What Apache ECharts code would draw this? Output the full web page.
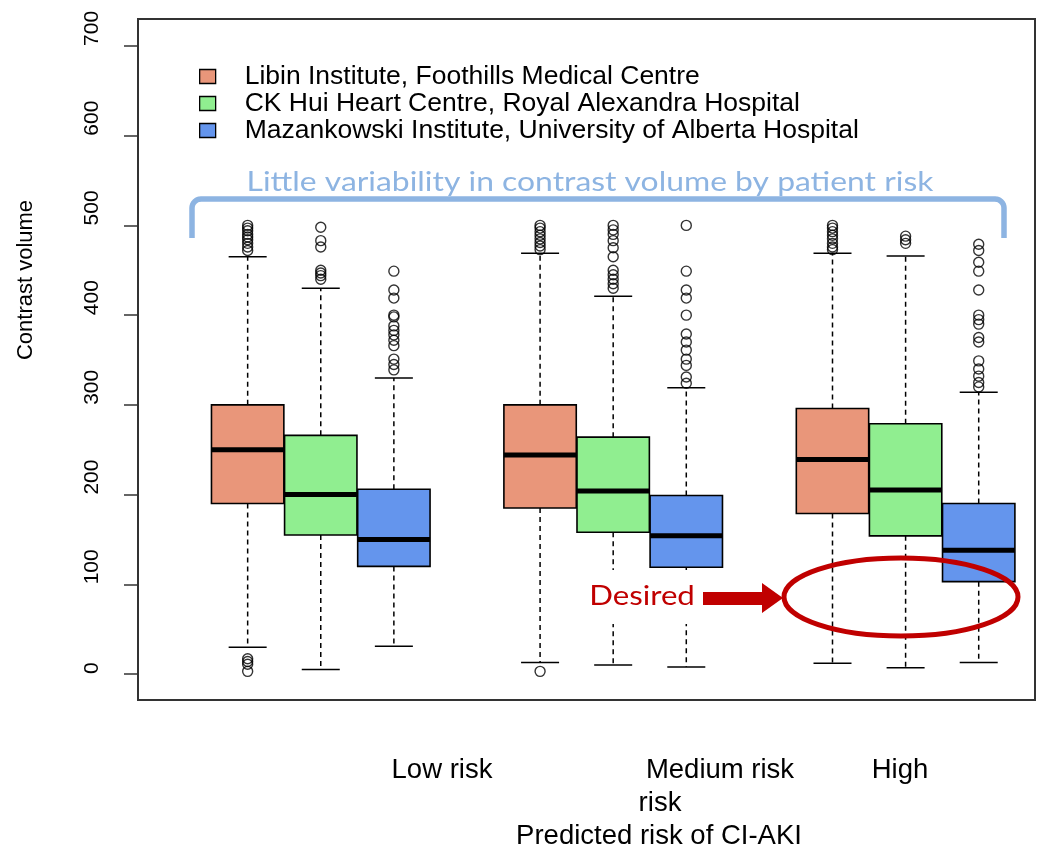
<!DOCTYPE html>
<html>
<head>
<meta charset="utf-8">
<script src="https://cdn.jsdelivr.net/npm/echarts@6/dist/echarts.min.js"></script>
<style>
  html, body { margin: 0; padding: 0; background: #fff; overflow: hidden; }
  #chart { width: 1038px; height: 851px; }
</style>
</head>
<body>
<div id="chart"></div>
<script>
// Hospitals (one box colour each) and risk groups along the x axis
const hospitals = [
  'Libin Institute, Foothills Medical Centre',
  'CK Hui Heart Centre, Royal Alexandra Hospital',
  'Mazankowski Institute, University of Alberta Hospital'
];
const riskGroups = ['Low risk', 'Medium risk', 'High'];
const hospitalColors = ['#E9967A', '#90EE90', '#6495ED'];

// Box statistics per risk group: [lower whisker, Q1, median, Q3, upper whisker]
const libinStats = [[30, 190, 250, 300, 465], [13, 185, 244, 300, 469], [12, 179, 239, 296, 469]];
const ckHuiStats = [[5, 155, 200, 266, 430], [10, 158, 204, 264, 421], [7, 154, 205, 279, 466]];
const mazankowskiStats = [[31, 120, 150, 206, 330], [8, 119, 154, 199, 319], [13, 103, 138, 190, 314]];

// Outlying contrast volumes per risk group
const libinOutliers = [
  [500, 497, 494, 490, 487, 484, 480, 476, 472, 17, 14, 11, 3],
  [500, 497, 493, 489, 485, 481, 477, 473, 3],
  [500, 497, 493, 489, 485, 480, 476, 473]
];
const ckHuiOutliers = [
  [498, 483, 476, 450, 447, 444, 440],
  [500, 495, 490, 483, 475, 465, 450, 445, 440, 435, 430],
  [488, 484, 480]
];
const mazankowskiOutliers = [
  [449, 428, 419, 400, 398, 388, 383, 378, 372, 366, 351, 345, 339],
  [500, 449, 428, 419, 400, 379, 370, 361, 351, 344, 331, 324],
  [479, 472, 459, 449, 428, 400, 395, 390, 375, 370, 349, 340, 332, 325, 320]
];

const yTicks = [0, 100, 200, 300, 400, 500, 600, 700];

const allStats = [libinStats, ckHuiStats, mazankowskiStats];
const allOutliers = [libinOutliers, ckHuiOutliers, mazankowskiOutliers];

// boxes sit side by side in a group, with one empty slot between groups
function slot(groupIdx, hospitalIdx) {
  return groupIdx * (hospitals.length + 1) + hospitalIdx + 1;
}

function renderBox(params, api) {
  const x = api.value(0);
  const unit = api.size([1, 0])[0];
  const half = unit * 0.495;
  const capHalf = unit * 0.26;
  const cx = api.coord([x, 0])[0];
  const yLo = api.coord([x, api.value(1)])[1];
  const yQ1 = api.coord([x, api.value(2)])[1];
  const yMed = api.coord([x, api.value(3)])[1];
  const yQ3 = api.coord([x, api.value(4)])[1];
  const yHi = api.coord([x, api.value(5)])[1];
  const fill = api.visual('color');
  const dash = { stroke: '#000', lineWidth: 1.5, lineDash: [5, 4] };
  const solid = { stroke: '#000', lineWidth: 1.5 };
  return {
    type: 'group',
    children: [
      { type: 'line', shape: { x1: cx, y1: yQ3, x2: cx, y2: yHi }, style: dash },
      { type: 'line', shape: { x1: cx, y1: yQ1, x2: cx, y2: yLo }, style: dash },
      { type: 'line', shape: { x1: cx - capHalf, y1: yHi, x2: cx + capHalf, y2: yHi }, style: solid },
      { type: 'line', shape: { x1: cx - capHalf, y1: yLo, x2: cx + capHalf, y2: yLo }, style: solid },
      { type: 'rect', shape: { x: cx - half, y: yQ3, width: half * 2, height: yQ1 - yQ3 },
        style: { fill: fill, stroke: '#000', lineWidth: 1.6 } },
      { type: 'line', shape: { x1: cx - half, y1: yMed, x2: cx + half, y2: yMed },
        style: { stroke: '#000', lineWidth: 5 } }
    ]
  };
}

const series = [];
hospitals.forEach(function (name, h) {
  series.push({
    name: name,
    type: 'custom',
    renderItem: renderBox,
    itemStyle: { color: hospitalColors[h] },
    encode: { x: 0, y: [1, 2, 3, 4, 5] },
    data: allStats[h].map(function (s, g) { return [slot(g, h)].concat(s); }),
    z: 2
  });
  const pts = [];
  allOutliers[h].forEach(function (vals, g) {
    vals.forEach(function (v) { pts.push([slot(g, h), v]); });
  });
  series.push({
    name: name,
    type: 'scatter',
    symbol: 'circle',
    symbolSize: 10,
    itemStyle: { color: 'rgba(0,0,0,0)', borderColor: '#000', borderWidth: 1.4 },
    data: pts,
    z: 3
  });
});

// rounded bracket over the three risk groups
function bracketPoints(x0, x1, yTop, yEnd, r) {
  const pts = [[x0, yEnd]];
  for (let i = 0; i <= 8; i++) {
    const a = Math.PI - (i / 8) * Math.PI / 2;
    pts.push([x0 + r + r * Math.cos(a), yTop + r - r * Math.sin(a)]);
  }
  for (let i = 0; i <= 8; i++) {
    const a = Math.PI / 2 - (i / 8) * Math.PI / 2;
    pts.push([x1 - r + r * Math.cos(a), yTop + r - r * Math.sin(a)]);
  }
  pts.push([x1, yEnd]);
  return pts;
}

const labelFont = { fontSize: 27.5, fontFamily: 'Liberation Sans', fill: '#000', align: 'center', verticalAlign: 'middle' };

const chart = echarts.init(document.getElementById('chart'));
chart.setOption({
  animation: false,
  backgroundColor: '#fff',
  grid: {
    left: 138, top: 19, right: 3, bottom: 151,
    show: true, borderColor: '#333', borderWidth: 2
  },
  xAxis: {
    type: 'value', min: -0.5, max: 11.77,
    axisLine: { show: false }, axisTick: { show: false },
    axisLabel: { show: false }, splitLine: { show: false }
  },
  yAxis: {
    type: 'value', min: -28.9, max: 730,
    axisLine: { show: false, onZero: false },
    splitLine: { show: false },
    axisTick: { show: true, customValues: yTicks, length: 14, lineStyle: { color: '#333', width: 1.5 } },
    axisLabel: {
      customValues: yTicks, rotate: 90, align: 'left', verticalAlign: 'middle',
      margin: 46, fontSize: 21, fontFamily: 'Liberation Sans', color: '#000'
    }
  },
  legend: {
    orient: 'vertical', left: 194, top: 58,
    icon: 'rect', itemWidth: 16, itemHeight: 14, itemGap: 0,
    selectedMode: false,
    textStyle: { fontSize: 26.5, fontFamily: 'Liberation Sans', color: '#000', padding: [0, 0, 0, 24] },
    data: hospitals.map(function (name, h) {
      return { name: name, itemStyle: { color: hospitalColors[h], borderColor: '#000', borderWidth: 1.3 } };
    })
  },
  graphic: [
    // y-axis title
    { type: 'text', x: 26, y: 280, rotation: Math.PI / 2,
      style: Object.assign({ text: 'Contrast volume' }, labelFont, { fontSize: 22 }) },
    { type: 'polyline', z: 10,
      shape: { points: bracketPoints(192, 1004, 199, 238, 9) },
      style: { fill: null, stroke: '#8DB4E2', lineWidth: 5.5, lineJoin: 'round' } },
    { type: 'text', x: 590, y: 182, z: 10, scaleX: 1.18,
      style: { text: 'Little variability in contrast volume by patient risk', fontSize: 27, fontFamily: 'Lato', fill: '#8DB4E2', align: 'center', verticalAlign: 'middle' } },
    // "Desired" call-out with arrow and ellipse
    { type: 'text', x: 642, y: 597, z: 10, scaleX: 1.2,
      style: { text: 'Desired', fontSize: 26, fontFamily: 'Lato', fill: '#C00000', align: 'center', verticalAlign: 'middle',
               backgroundColor: '#fff', padding: [14, 6, 14, 6] } },
    { type: 'polygon', z: 10,
      shape: { points: [[703, 592], [762, 592], [762, 583], [783, 598], [762, 613], [762, 605], [703, 605]] },
      style: { fill: '#C00000' } },
    { type: 'ellipse', z: 10,
      shape: { cx: 901, cy: 597, rx: 117, ry: 39 },
      style: { fill: null, stroke: '#C00000', lineWidth: 5 } },
    // group labels and x-axis title
    { type: 'text', x: 442, y: 770, style: Object.assign({ text: riskGroups[0] }, labelFont) },
    { type: 'text', x: 720, y: 770, style: Object.assign({ text: riskGroups[1] }, labelFont) },
    { type: 'text', x: 900, y: 770, style: Object.assign({ text: riskGroups[2] }, labelFont) },
    { type: 'text', x: 660, y: 803, style: Object.assign({ text: 'risk' }, labelFont) },
    { type: 'text', x: 659, y: 836, style: Object.assign({ text: 'Predicted risk of CI-AKI' }, labelFont) }
  ],
  series: series
});
</script>
</body>
</html>
